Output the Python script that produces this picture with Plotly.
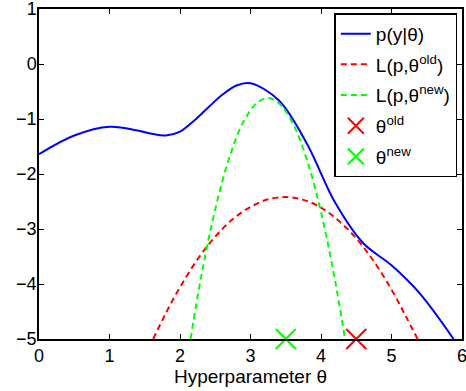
import plotly.graph_objects as go

# Data
blue_x = [0.0, 0.5, 1.0, 1.4, 1.6, 1.8, 2.0, 2.2, 2.4, 2.6, 2.8, 3.0, 3.4, 3.8, 4.2, 4.6, 5.0, 5.4, 5.88]
blue_y = [-1.64, -1.30, -1.14, -1.21, -1.27, -1.30, -1.23, -1.03, -0.79, -0.56, -0.39, -0.35, -0.66, -1.45, -2.52, -3.26, -3.66, -4.17, -5.0]

red_x = [1.62, 1.8, 2.0, 2.25, 2.5, 2.75, 3.0, 3.25, 3.5, 3.75, 4.0, 4.25, 4.5, 4.75, 5.0, 5.2, 5.37]
red_y = [-5.0, -4.53, -4.06, -3.55, -3.14, -2.82, -2.60, -2.46, -2.42, -2.47, -2.61, -2.85, -3.17, -3.59, -4.10, -4.58, -5.0]

green_x = [2.15, 2.3, 2.5, 2.7, 2.9, 3.1, 3.25, 3.4, 3.6, 3.8, 4.0, 4.2, 4.34]
green_y = [-5.0, -3.87, -2.64, -1.70, -1.05, -0.70, -0.62, -0.71, -1.08, -1.74, -2.69, -3.94, -5.0]

theta_old = [4.5]
theta_new = [3.5]
marker_y = [-5.0]

x_ticks = [0, 1, 2, 3, 4, 5, 6]
y_ticks = [-5, -4, -3, -2, -1, 0, 1]

FONT = "Liberation Sans, Arial, Helvetica, sans-serif"

fig = go.Figure()
fig.add_trace(go.Scatter(x=blue_x, y=blue_y, mode="lines", name="p(y|θ)", legendgroup="a",
                         line=dict(color="#0000ff", width=2, shape="spline", smoothing=1.0)))
fig.add_trace(go.Scatter(x=red_x, y=red_y, mode="lines", name="L(p,θ<sup>old</sup>)", legendgroup="b",
                         line=dict(color="#ff0000", width=2, dash="6px,4px", shape="spline")))
fig.add_trace(go.Scatter(x=green_x, y=green_y, mode="lines", name="L(p,θ<sup>new</sup>)", legendgroup="c",
                         line=dict(color="#00ff00", width=2, dash="6px,4px", shape="spline")))
fig.add_trace(go.Scatter(x=theta_old, y=marker_y, mode="markers", name="θ<sup>old</sup>", legendgroup="d",
                         cliponaxis=False,
                         marker=dict(symbol="x-thin", size=20, color="#ff0000",
                                     line=dict(color="#ff0000", width=2))))
fig.add_trace(go.Scatter(x=theta_new, y=marker_y, mode="markers", name="θ<sup>new</sup>", legendgroup="e",
                         cliponaxis=False,
                         marker=dict(symbol="x-thin", size=20, color="#00ff00",
                                     line=dict(color="#00ff00", width=2))))

axis_common = dict(showline=True, linecolor="black", linewidth=1.5, mirror="ticks",
                   ticks="inside", ticklen=5, tickcolor="black", tickwidth=1,
                   showgrid=False, zeroline=False, ticklabeloverflow="allow",
                   tickfont=dict(family=FONT, size=18, color="black"))

fig.update_xaxes(range=[0, 6], tickvals=x_ticks, **axis_common,
                 title=dict(text="Hyperparameter θ", font=dict(family=FONT, size=19, color="black"),
                            standoff=4))
fig.update_yaxes(range=[-5, 1], tickvals=y_ticks, ticklabelstandoff=-3, **axis_common)

fig.update_layout(
    width=466, height=391,
    margin=dict(l=39, r=4, t=9, b=52, autoexpand=False),
    plot_bgcolor="white", paper_bgcolor="white",
    showlegend=True,
    legend=dict(x=0.989, y=0.987, xanchor="right", yanchor="top",
                bordercolor="black", borderwidth=1.5, bgcolor="white",
                tracegroupgap=3,
                font=dict(family=FONT, size=19, color="black")),
)

fig.write_html("out.html")
